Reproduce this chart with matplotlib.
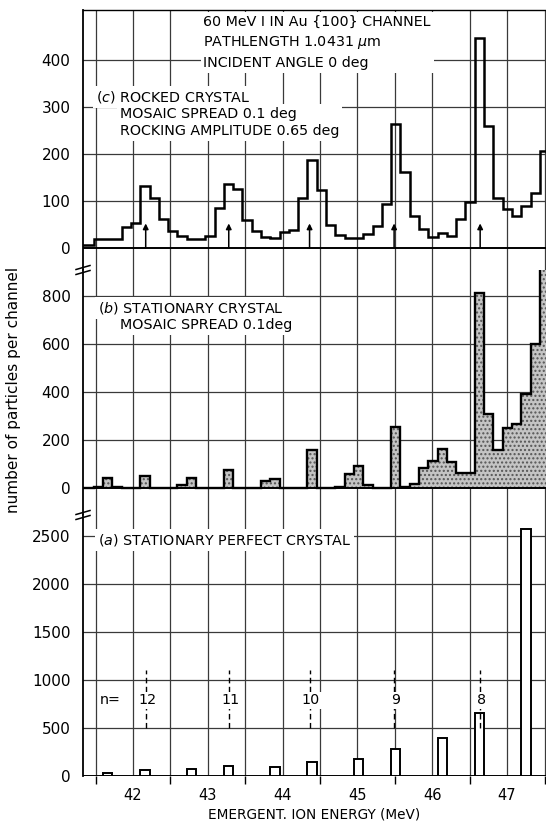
import matplotlib
matplotlib.use("Agg")
import matplotlib.pyplot as plt
import numpy as np
from matplotlib.lines import Line2D

# channel layout (MeV)
chan0 = 41.60
chan_width = 0.1242
chan_index = np.arange(-3, 48)

# (c) rocked crystal, counts per channel for channels -3..47
rocked = [7, 7, 18, 18, 18, 45, 52, 132, 106, 61, 35, 26, 18, 18, 26, 84, 135, 125,
          60, 35, 23, 20, 33, 38, 106, 186, 123, 48, 27, 20, 20, 30, 47, 93, 264,
          161, 67, 41, 23, 31, 26, 61, 97, 446, 260, 107, 82, 68, 89, 116, 207]

# (b) stationary crystal, mosaic spread 0.1 deg, channels -3..47
stationary = [0, 0, 4, 42, 4, 0, 0, 49, 0, 0, 0, 11, 42, 0, 0, 0, 76, 0, 0, 0,
              31, 36, 0, 0, 0, 157, 0, 0, 4, 57, 94, 14, 0, 0, 256, 5, 17, 82, 113,
              163, 109, 63, 63, 813, 310, 157, 250, 267, 390, 598, 1200]

# (a) stationary perfect crystal: only a few channels are populated
perfect_chan = [0, 4, 9, 13, 18, 22, 27, 31, 36, 40, 45]
perfect_counts = [30, 59, 76, 108, 97, 149, 174, 285, 395, 660, 2570]

# shell transitions n = 12 ... 8
n_labels = ["12", "11", "10", "9", "8"]
n_energy = [42.17, 43.28, 44.36, 45.49, 46.64]

yticks_c = [0, 100, 200, 300, 400]
yticks_b = [0, 200, 400, 600, 800]
yticks_a = [0, 500, 1000, 1500, 2000, 2500]
xticks = [42, 43, 44, 45, 46, 47]

edges = chan0 + chan_width * np.append(chan_index, chan_index[-1] + 1)

W, H = 546, 827
fig = plt.figure(figsize=(W / 100, H / 100), dpi=100)
left = 83 / W
ax_c = fig.add_axes([left, 1 - 270 / H, 1 - left, 260 / H])
ax_b = fig.add_axes([left, 1 - 515 / H, 1 - left, 245 / H], sharex=ax_c)
ax_a = fig.add_axes([left, 1 - 776 / H, 1 - left, 261 / H], sharex=ax_c)

grid_kw = dict(color="#3a3a3a", lw=0.9)
for ax, yt, lim in [(ax_c, yticks_c, (-47, 506)),
                    (ax_b, yticks_b, (-112, 908)),
                    (ax_a, yticks_a, (0, 2719))]:
    ax.set_xlim(41.332, 47.52)
    ax.set_ylim(*lim)
    ax.set_yticks(yt)
    ax.set_xticks(xticks)
    ax.set_xticks(np.arange(41.5, 47.6, 1.0), minor=True)
    ax.set_axisbelow(True)
    for xv in np.arange(41.5, 47.51, 0.5):
        ax.axvline(xv, zorder=0.5, **grid_kw)
    for yv in yt[1:]:
        ax.axhline(yv, zorder=0.5, **grid_kw)
    ax.axhline(0, color="black", lw=1.4, zorder=2.5)
    for s in ["top", "right", "bottom"]:
        ax.spines[s].set_visible(False)
    ax.spines["left"].set_linewidth(1.3)
    ax.tick_params(axis="y", length=0, pad=9, labelsize=11)
    ax.tick_params(axis="x", which="both", length=0, labelbottom=False)

ax_c.spines["top"].set_visible(True)
ax_c.spines["top"].set_linewidth(1.0)

fs = 10.3
box = dict(facecolor="white", edgecolor="none", pad=2)

# (c) rocked crystal histogram
ax_c.stairs(rocked, edges, color="black", lw=1.8, zorder=3)
for e in n_energy:
    ax_c.annotate("", xy=(e, 52), xytext=(e, 0),
                  arrowprops=dict(arrowstyle="-|>", color="black", lw=1.1,
                                  mutation_scale=8, shrinkA=0, shrinkB=0),
                  zorder=3)
ax_c.text(42.94, 496, "60 MeV I IN Au {100} CHANNEL\nPATHLENGTH 1.0431 $\\mu$m\n"
          "INCIDENT ANGLE 0 deg", fontsize=fs, va="top", ha="left",
          linespacing=1.45, bbox=box, zorder=4)
ax_c.text(41.50, 321, "($c$) ROCKED CRYSTAL", fontsize=fs, va="center",
          ha="left", bbox=box, zorder=4)
ax_c.text(41.82, 300, "MOSAIC SPREAD 0.1 deg\nROCKING AMPLITUDE 0.65 deg",
          fontsize=fs, va="top", ha="left", linespacing=1.3, bbox=box, zorder=4)

# (b) stationary crystal histogram, stippled fill
ax_b.stairs(stationary, edges, fill=True, facecolor="#c4c4c4", edgecolor="#555555",
            hatch="....", lw=0, zorder=2)
ax_b.stairs(stationary, edges, color="black", lw=1.7, zorder=3)
ax_b.text(41.53, 750, "($b$) STATIONARY CRYSTAL", fontsize=fs, va="center",
          ha="left", bbox=box, zorder=4)
ax_b.text(41.83, 677, "MOSAIC SPREAD 0.1deg", fontsize=fs, va="center",
          ha="left", bbox=box, zorder=4)

# (a) stationary perfect crystal, open bars
bar_x = [chan0 + c * chan_width for c in perfect_chan]
ax_a.bar(bar_x, perfect_counts, width=chan_width, align="edge", facecolor="white",
         edgecolor="black", lw=1.4, zorder=3)
ax_a.text(41.53, 2459, "($a$) STATIONARY PERFECT CRYSTAL", fontsize=fs,
          va="center", ha="left", bbox=box, zorder=4)
for e, lab in zip(n_energy, n_labels):
    ax_a.plot([e, e], [505, 1100], color="black", lw=1.0, ls=(0, (4, 2.5)), zorder=3)
    ax_a.text(e + 0.02, 790, lab, fontsize=fs, ha="center", va="center",
              bbox=dict(facecolor="white", edgecolor="none", pad=1), zorder=4)
ax_a.text(41.56, 790, "n=", fontsize=fs, ha="left", va="center", zorder=4)

ax_a.tick_params(axis="x", which="major", length=0, pad=9, labelsize=10.5,
                 labelbottom=True)
ax_a.tick_params(axis="x", which="minor", length=6, width=1.0, direction="out")
ax_a.set_xlabel("EMERGENT. ION ENERGY (MeV)", fontsize=9.8, labelpad=3)

fig.text(14 / W, 1 - 390 / H, "number of particles per channel", rotation=90,
         ha="center", va="center", fontsize=11,
         family=["Liberation Sans Narrow", "DejaVu Sans"])

# axis break marks on the left spine
for yb in (270, 515):
    for dy in (-2.5, 2.5):
        fig.add_artist(Line2D([76 / W, 90 / W],
                              [1 - (yb + dy + 2) / H, 1 - (yb + dy - 2) / H],
                              color="black", lw=1.1))

fig.savefig("out.png", dpi=100)
